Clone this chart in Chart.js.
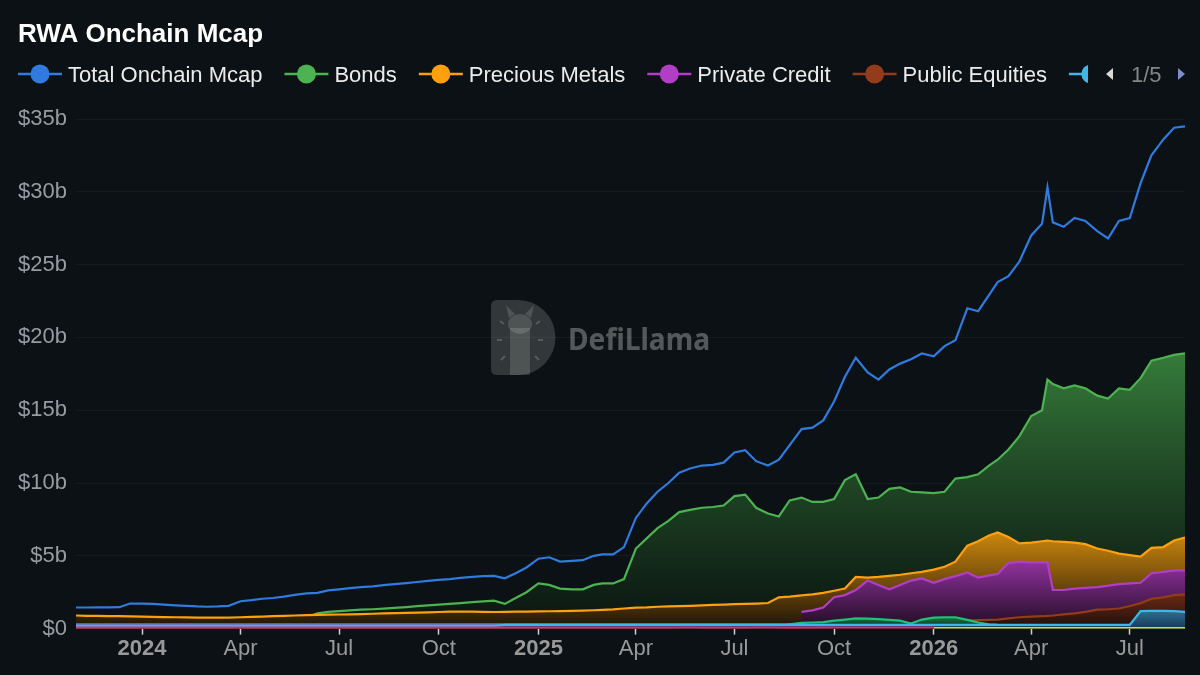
<!DOCTYPE html>
<html>
<head>
<meta charset="utf-8">
<title>RWA Onchain Mcap</title>
<script src="https://cdn.jsdelivr.net/npm/chart.js@4.4.1/dist/chart.umd.min.js"></script>
<style>
  html, body { margin: 0; padding: 0; background: #0b1114; }
  #wrap { width: 1200px; height: 675px; }
</style>
</head>
<body>
<div id="wrap"><canvas id="rwaChart" width="1200" height="675"></canvas></div>
<script>
const chartTitle = 'RWA Onchain Mcap';

// sample dates: 1st / 11th / 21st of every month (+ the mid-April 2026 spike)
const dates = [
  '2023-11-01','2023-11-11','2023-11-21', '2023-12-01','2023-12-11','2023-12-21',
  '2024-01-01','2024-01-11','2024-01-21', '2024-02-01','2024-02-11','2024-02-21',
  '2024-03-01','2024-03-11','2024-03-21', '2024-04-01','2024-04-11','2024-04-21',
  '2024-05-01','2024-05-11','2024-05-21', '2024-06-01','2024-06-11','2024-06-21',
  '2024-07-01','2024-07-11','2024-07-21', '2024-08-01','2024-08-11','2024-08-21',
  '2024-09-01','2024-09-11','2024-09-21', '2024-10-01','2024-10-11','2024-10-21',
  '2024-11-01','2024-11-11','2024-11-21', '2024-12-01','2024-12-11','2024-12-21',
  '2025-01-01','2025-01-11','2025-01-21', '2025-02-01','2025-02-11','2025-02-21',
  '2025-03-01','2025-03-11','2025-03-21', '2025-04-01','2025-04-11','2025-04-21',
  '2025-05-01','2025-05-11','2025-05-21', '2025-06-01','2025-06-11','2025-06-21',
  '2025-07-01','2025-07-11','2025-07-21', '2025-08-01','2025-08-11','2025-08-21',
  '2025-09-01','2025-09-11','2025-09-21', '2025-10-01','2025-10-11','2025-10-21',
  '2025-11-01','2025-11-11','2025-11-21', '2025-12-01','2025-12-11','2025-12-21',
  '2026-01-01','2026-01-11','2026-01-21', '2026-02-01','2026-02-11','2026-02-21',
  '2026-03-01','2026-03-11','2026-03-21', '2026-04-01','2026-04-11','2026-04-16','2026-04-21',
  '2026-05-01','2026-05-11','2026-05-21', '2026-06-01','2026-06-11','2026-06-21',
  '2026-07-01','2026-07-11','2026-07-21', '2026-08-01','2026-08-11','2026-08-21'
];

// values in $ billions, one per date
const totalMcap = [
  1.45, 1.45, 1.46,  1.46, 1.47, 1.72,
  1.72, 1.70, 1.65,  1.60, 1.56, 1.52,
  1.50, 1.52, 1.56,  1.88, 1.95, 2.05,
  2.10, 2.20, 2.32,  2.42, 2.45, 2.62,
  2.70, 2.78, 2.85,  2.90, 2.98, 3.05,
  3.12, 3.20, 3.28,  3.35, 3.40, 3.48,
  3.55, 3.60, 3.62,  3.45, 3.80, 4.20,
  4.80, 4.90, 4.60,  4.65, 4.70, 5.00,
  5.10, 5.10, 5.60,  7.60, 8.60, 9.40,
  10.0, 10.7, 11.0,  11.2, 11.25, 11.4,
  12.1, 12.25, 11.5, 11.2, 11.6, 12.6,
  13.7, 13.8, 14.3,  15.6, 17.3, 18.6,
  17.6, 17.1, 17.8,  18.2, 18.5, 18.9,
  18.7, 19.4, 19.8,  22.0, 21.8, 22.9,
  23.8, 24.2, 25.2,  27.0, 27.8, 30.3, 27.9,
  27.6, 28.2, 28.0,  27.3, 26.8, 28.0,
  28.2, 30.6, 32.5,  33.6, 34.4, 34.5
];
const bonds = [
  0.30, 0.30, 0.30,  0.28, 0.27, 0.27,
  0.26, 0.25, 0.24,  0.23, 0.22, 0.22,
  0.21, 0.20, 0.20,  0.45, 0.50, 0.55,
  0.60, 0.65, 0.72,  0.78, 1.05, 1.15,
  1.20, 1.25, 1.30,  1.33, 1.37, 1.42,
  1.48, 1.55, 1.60,  1.65, 1.70, 1.75,
  1.82, 1.87, 1.92,  1.70, 2.10, 2.50,
  3.10, 3.00, 2.75,  2.70, 2.70, 3.00,
  3.10, 3.10, 3.40,  5.50, 6.20, 6.90,
  7.40, 8.00, 8.15,  8.30, 8.35, 8.45,
  9.10, 9.20, 8.30,  7.90, 7.70, 8.80,
  9.00, 8.70, 8.70,  8.90, 10.2, 10.6,
  8.90, 9.00, 9.60,  9.70, 9.40, 9.35,
  9.30, 9.40, 10.3,  10.4, 10.6, 11.2,
  11.6, 12.3, 13.2,  14.6, 15.0, 17.1, 16.8,
  16.5, 16.7, 16.5,  16.0, 15.8, 16.5,
  16.4, 17.2, 18.4,  18.6, 18.8, 18.9
];
const preciousMetals = [
  0.90, 0.88, 0.87,  0.86, 0.85, 0.84,
  0.82, 0.80, 0.79,  0.78, 0.77, 0.76,
  0.75, 0.75, 0.76,  0.78, 0.80, 0.82,
  0.85, 0.87, 0.90,  0.92, 0.94, 0.96,
  0.97, 0.98, 1.00,  1.02, 1.04, 1.06,
  1.08, 1.10, 1.12,  1.14, 1.16, 1.17,
  1.17, 1.15, 1.14,  1.15, 1.16, 1.17,
  1.18, 1.19, 1.20,  1.22, 1.24, 1.26,
  1.28, 1.32, 1.38,  1.44, 1.46, 1.50,
  1.52, 1.54, 1.56,  1.60, 1.63, 1.65,
  1.68, 1.70, 1.72,  1.76, 2.15, 2.20,
  2.28, 2.35, 2.45,  2.60, 2.75, 3.55,
  3.50, 3.55, 3.62,  3.70, 3.80, 3.90,
  4.05, 4.25, 4.60,  5.70, 6.00, 6.40,
  6.60, 6.30, 5.85,  5.90, 6.00, 6.05, 6.00,
  5.95, 5.90, 5.80,  5.50, 5.35, 5.15,
  5.05, 4.95, 5.55,  5.60, 6.05, 6.25
];
const privateCredit = [
  null, null, null,  null, null, null,
  null, null, null,  null, null, null,
  null, null, null,  null, null, null,
  null, null, null,  null, null, null,
  null, null, null,  null, null, null,
  null, null, null,  null, null, null,
  null, null, null,  null, null, null,
  null, null, null,  null, null, null,
  null, null, null,  null, null, null,
  null, null, null,  null, null, null,
  null, null, null,  null, null, null,
  1.15, 1.25, 1.45,  2.15, 2.30, 2.65,
  3.30, 3.00, 2.70,  3.00, 3.30, 3.45,
  3.15, 3.40, 3.60,  3.85, 3.50, 3.65,
  3.75, 4.50, 4.60,  4.55, 4.55, 4.55, 2.65,
  2.65, 2.75, 2.80,  2.85, 2.95, 3.05,
  3.10, 3.15, 3.80,  3.90, 4.00, 4.00
];
const publicEquities = [
  0.03, 0.03, 0.03,  0.03, 0.03, 0.03,
  0.03, 0.03, 0.03,  0.03, 0.03, 0.03,
  0.03, 0.03, 0.03,  0.03, 0.03, 0.03,
  0.03, 0.03, 0.03,  0.03, 0.03, 0.03,
  0.03, 0.03, 0.03,  0.03, 0.03, 0.03,
  0.03, 0.03, 0.03,  0.03, 0.03, 0.03,
  0.03, 0.03, 0.03,  0.03, 0.03, 0.03,
  0.03, 0.03, 0.03,  0.03, 0.03, 0.03,
  0.03, 0.03, 0.03,  0.03, 0.03, 0.03,
  0.03, 0.15, 0.18,  0.05, 0.03, 0.03,
  0.03, 0.03, 0.20,  0.18, 0.05, 0.04,
  0.05, 0.06, 0.08,  0.10, 0.15, 0.20,
  0.25, 0.30, 0.33,  0.35, 0.38, 0.40,
  0.45, 0.48, 0.50,  0.55, 0.58, 0.60,
  0.62, 0.70, 0.78,  0.82, 0.85, 0.88, 0.90,
  0.98, 1.05, 1.15,  1.30, 1.33, 1.38,
  1.55, 1.75, 2.05,  2.15, 2.30, 2.35
];
const institutionalFunds = [
  0.18, 0.18, 0.18,  0.18, 0.18, 0.18,
  0.18, 0.18, 0.18,  0.18, 0.18, 0.18,
  0.18, 0.18, 0.18,  0.18, 0.18, 0.18,
  0.18, 0.18, 0.18,  0.18, 0.18, 0.18,
  0.18, 0.18, 0.18,  0.18, 0.18, 0.18,
  0.18, 0.18, 0.18,  0.18, 0.18, 0.18,
  0.18, 0.18, 0.18,  0.25, 0.25, 0.25,
  0.25, 0.25, 0.25,  0.25, 0.25, 0.25,
  0.25, 0.25, 0.25,  0.25, 0.25, 0.25,
  0.25, 0.25, 0.25,  0.25, 0.25, 0.25,
  0.25, 0.25, 0.25,  0.25, 0.25, 0.25,
  0.25, 0.25, 0.25,  0.25, 0.25, 0.25,
  0.25, 0.25, 0.25,  0.25, 0.25, 0.25,
  0.25, 0.25, 0.25,  0.25, 0.25, 0.25,
  0.25, 0.25, 0.25,  0.25, 0.25, 0.25, 0.25,
  0.25, 0.25, 0.25,  0.25, 0.25, 0.25,
  0.25, 1.20, 1.22,  1.22, 1.20, 1.15
];
const realEstate = [
  0.10, 0.10, 0.10,  0.10, 0.10, 0.10,
  0.10, 0.10, 0.10,  0.10, 0.10, 0.10,
  0.10, 0.10, 0.10,  0.10, 0.10, 0.10,
  0.10, 0.10, 0.10,  0.10, 0.10, 0.10,
  0.10, 0.10, 0.10,  0.10, 0.10, 0.10,
  0.10, 0.10, 0.10,  0.10, 0.10, 0.10,
  0.10, 0.10, 0.10,  0.10, 0.10, 0.10,
  0.10, 0.10, 0.10,  0.10, 0.10, 0.10,
  0.10, 0.10, 0.10,  0.10, 0.10, 0.10,
  0.10, 0.10, 0.10,  0.10, 0.10, 0.10,
  0.10, 0.10, 0.10,  0.12, 0.15, 0.30,
  0.40, 0.42, 0.45,  0.55, 0.62, 0.70,
  0.68, 0.65, 0.60,  0.55, 0.35, 0.62,
  0.75, 0.78, 0.78,  0.60, 0.42, 0.30,
  0.25, 0.22, 0.20,  0.18, 0.18, 0.18, 0.18,
  0.18, 0.18, 0.18,  0.18, 0.18, 0.18,
  0.18, 0.18, 0.18,  0.18, 0.18, 0.18
];
const structuredCredit = [
  0.30, 0.30, 0.30,  0.30, 0.30, 0.30,
  0.30, 0.30, 0.30,  0.30, 0.30, 0.30,
  0.30, 0.30, 0.30,  0.30, 0.30, 0.30,
  0.30, 0.30, 0.30,  0.30, 0.30, 0.30,
  0.30, 0.30, 0.30,  0.30, 0.30, 0.30,
  0.30, 0.30, 0.30,  0.30, 0.30, 0.30,
  0.30, 0.30, 0.30,  0.30, 0.30, 0.30,
  0.30, 0.30, 0.30,  0.30, 0.30, 0.30,
  0.30, 0.30, 0.30,  0.30, 0.30, 0.30,
  0.30, 0.30, 0.30,  0.30, 0.30, 0.30,
  0.30, 0.30, 0.30,  0.30, 0.30, 0.30,
  0.30, 0.30, 0.30,  0.30, 0.30, 0.30,
  0.30, 0.30, 0.30,  0.30, 0.30, 0.30,
  0.30, 0.30, 0.28,  0.08, 0.08, 0.08,
  0.08, 0.08, 0.08,  0.08, 0.08, 0.08, 0.08,
  0.08, 0.08, 0.08,  0.08, 0.08, 0.08,
  0.08, 0.08, 0.08,  0.08, 0.08, 0.08
];
const carbonCredits = [
  0.00, 0.00, 0.00,  0.00, 0.00, 0.00,
  0.00, 0.00, 0.00,  0.00, 0.00, 0.00,
  0.00, 0.00, 0.00,  0.00, 0.00, 0.00,
  0.00, 0.00, 0.00,  0.00, 0.00, 0.00,
  0.00, 0.00, 0.00,  0.00, 0.00, 0.00,
  0.00, 0.00, 0.00,  0.00, 0.00, 0.00,
  0.00, 0.00, 0.00,  0.00, 0.00, 0.00,
  0.00, 0.00, 0.00,  0.00, 0.00, 0.00,
  0.00, 0.00, 0.00,  0.00, 0.00, 0.00,
  0.00, 0.00, 0.00,  0.00, 0.00, 0.00,
  0.00, 0.00, 0.00,  0.00, 0.00, 0.00,
  0.00, 0.00, 0.00,  0.00, 0.00, 0.00,
  0.00, 0.00, 0.00,  0.00, 0.00, 0.00,
  0.00, null, null,  null, null, null,
  null, null, null,  null, null, null, null,
  null, null, null,  null, null, null,
  null, null, null,  null, null, null
];
const commodities = [
  null, null, null,  null, null, null,
  null, null, null,  null, null, null,
  null, null, null,  null, null, null,
  null, null, null,  null, null, null,
  null, null, null,  null, null, null,
  null, null, null,  null, null, null,
  null, null, null,  null, null, null,
  null, null, null,  null, null, null,
  null, null, null,  null, null, null,
  null, null, null,  null, null, null,
  null, null, null,  null, null, null,
  null, null, null,  null, null, null,
  null, null, null,  null, null, null,
  0.00, 0.00, 0.00,  0.00, 0.00, 0.00,
  0.00, 0.00, 0.00,  0.00, 0.00, 0.00, 0.00,
  0.00, 0.00, 0.00,  0.00, 0.00, 0.00,
  0.00, 0.00, 0.00,  0.00, 0.00, 0.00
];

// axis ticks
const xTickDates = [
  '2024-01-01','2024-04-01','2024-07-01','2024-10-01',
  '2025-01-01','2025-04-01','2025-07-01','2025-10-01',
  '2026-01-01','2026-04-01','2026-07-01'
];
const monthNames = ['Jan','Feb','Mar','Apr','May','Jun','Jul','Aug','Sep','Oct','Nov','Dec'];
const yTicks = [0, 5, 10, 15, 20, 25, 30, 35];
const pageLabel = '1/5';

const FONT = "'Liberation Sans', Arial, Helvetica, sans-serif";
const BG = '#0b1114';

const toTime = (s) => {
  const p = s.split('-').map(Number);
  return Date.UTC(p[0], p[1] - 1, p[2]);
};

// vertical gradient from the series peak down to $0
function fadeFill(topColor, bottomColor, vals) {
  const peak = Math.max(...vals.filter(v => v != null));
  return (c) => {
    const chart = c.chart;
    const area = chart.chartArea;
    if (!area) return bottomColor;
    const y0 = chart.scales.y.getPixelForValue(peak);
    const g = chart.ctx.createLinearGradient(0, y0, 0, area.bottom);
    g.addColorStop(0, topColor);
    g.addColorStop(1, bottomColor);
    return g;
  };
}

function series(label, vals, color, order, fill, width) {
  return {
    label: label,
    data: dates.map((d, i) => ({ x: toTime(d), y: vals[i] })),
    borderColor: color,
    borderWidth: width || 2.2,
    pointRadius: 0,
    tension: 0,
    order: order,
    fill: fill ? 'origin' : false,
    backgroundColor: fill || color
  };
}

const datasets = [
  series('Total Onchain Mcap', totalMcap, '#2f7be0', 0, null),
  series('Bonds', bonds, '#4db251', 9, fadeFill('rgba(58,135,62,0.9)', 'rgba(10,22,16,0.7)', bonds)),
  series('Precious Metals', preciousMetals, '#ffa00c', 8, fadeFill('rgb(205,135,14)', 'rgb(28,20,6)', preciousMetals)),
  series('Private Credit', privateCredit, '#b23ec6', 7, fadeFill('rgb(145,50,158)', 'rgb(30,12,32)', privateCredit)),
  series('Public Equities', publicEquities, '#933c1c', 6, fadeFill('rgb(105,42,20)', 'rgb(28,14,10)', publicEquities)),
  series('Institutional Funds', institutionalFunds, '#3fb6ea', 3, fadeFill('rgb(45,110,150)', 'rgb(24,58,82)', institutionalFunds)),
  series('Real Estate', realEstate, '#22c07a', 4, fadeFill('rgb(25,120,65)', 'rgb(10,40,25)', realEstate)),
  series('Structured Credit', structuredCredit, '#5b7fbf', 5, null),
  series('Carbon Credits', carbonCredits, '#e2296e', 2, null, 4),
  series('Commodities', commodities, '#d6dc2a', 1, null, 3)
];

const backgroundPlugin = {
  id: 'background',
  beforeDraw(chart) {
    const ctx = chart.ctx;
    ctx.save();
    ctx.fillStyle = BG;
    ctx.fillRect(0, 0, chart.width, chart.height);
    ctx.restore();
  }
};

// faint DefiLlama mark behind the lines
const watermarkPlugin = {
  id: 'watermark',
  beforeDatasetsDraw(chart) {
    const ctx = chart.ctx;
    ctx.save();
    ctx.fillStyle = 'rgba(255,255,255,0.16)';
    ctx.beginPath();
    ctx.moveTo(497, 300);
    ctx.lineTo(518, 300);
    ctx.arc(518, 337.5, 37.5, -Math.PI / 2, Math.PI / 2);
    ctx.lineTo(497, 375);
    ctx.quadraticCurveTo(491, 375, 491, 369);
    ctx.lineTo(491, 306);
    ctx.quadraticCurveTo(491, 300, 497, 300);
    ctx.fill();
    // llama
    ctx.fillStyle = 'rgba(255,255,255,0.14)';
    ctx.fillRect(510, 328, 20, 47);
    ctx.beginPath();
    ctx.ellipse(520, 324, 12, 10, 0, 0, Math.PI * 2);
    ctx.fill();
    ctx.beginPath();
    ctx.moveTo(509, 318); ctx.lineTo(506, 305); ctx.lineTo(515, 314);
    ctx.moveTo(531, 318); ctx.lineTo(534, 305); ctx.lineTo(525, 314);
    ctx.fill();
    ctx.strokeStyle = 'rgba(255,255,255,0.18)';
    ctx.lineWidth = 2;
    ctx.beginPath();
    ctx.moveTo(500, 321); ctx.lineTo(504, 324);
    ctx.moveTo(497, 340); ctx.lineTo(502, 340);
    ctx.moveTo(501, 360); ctx.lineTo(505, 356);
    ctx.moveTo(540, 321); ctx.lineTo(536, 324);
    ctx.moveTo(543, 340); ctx.lineTo(538, 340);
    ctx.moveTo(539, 360); ctx.lineTo(535, 356);
    ctx.stroke();
    ctx.fillStyle = 'rgba(255,255,255,0.3)';
    ctx.font = "bold 31px 'Noto Sans', sans-serif";
    ctx.textBaseline = 'alphabetic';
    ctx.fillText('DefiLlama', 568, 350, 142);
    ctx.restore();
  }
};

// title, legend row (cut at the pager) and the pager itself
const headerPlugin = {
  id: 'header',
  afterDraw(chart) {
    const ctx = chart.ctx;
    ctx.save();
    ctx.fillStyle = '#ffffff';
    ctx.font = `bold 26px ${FONT}`;
    ctx.textBaseline = 'alphabetic';
    ctx.fillText(chartTitle, 18, 42);

    ctx.save();
    ctx.beginPath();
    ctx.rect(0, 55, 1088, 40);
    ctx.clip();
    ctx.font = `22px ${FONT}`;
    const cy = 74;
    let x = 18;
    chart.data.datasets.forEach(ds => {
      ctx.strokeStyle = ds.borderColor;
      ctx.lineWidth = 2.5;
      ctx.beginPath();
      ctx.moveTo(x, cy);
      ctx.lineTo(x + 44, cy);
      ctx.stroke();
      ctx.fillStyle = ds.borderColor;
      ctx.beginPath();
      ctx.arc(x + 22, cy, 9.5, 0, Math.PI * 2);
      ctx.fill();
      ctx.fillStyle = '#ececec';
      ctx.fillText(ds.label, x + 50, cy + 8);
      x += 50 + ctx.measureText(ds.label).width + 22;
    });
    ctx.restore();

    ctx.fillStyle = '#d8d8d8';
    ctx.beginPath();
    ctx.moveTo(1113, 68); ctx.lineTo(1113, 80); ctx.lineTo(1106, 74);
    ctx.fill();
    ctx.fillStyle = '#858585';
    ctx.font = `22px ${FONT}`;
    ctx.fillText(pageLabel, 1131, 82);
    ctx.fillStyle = '#7d8ec9';
    ctx.beginPath();
    ctx.moveTo(1178, 68); ctx.lineTo(1178, 80); ctx.lineTo(1185, 74);
    ctx.fill();
    ctx.restore();
  }
};

new Chart(document.getElementById('rwaChart'), {
  type: 'line',
  data: { datasets: datasets },
  plugins: [backgroundPlugin, watermarkPlugin, headerPlugin],
  options: {
    responsive: false,
    animation: false,
    events: [],
    layout: { padding: { top: 119, left: 9, right: 15, bottom: 12 } },
    plugins: {
      legend: { display: false },
      title: { display: false },
      tooltip: { enabled: false }
    },
    scales: {
      x: {
        type: 'linear',
        min: toTime(dates[0]),
        max: toTime(dates[dates.length - 1]),
        afterBuildTicks: (scale) => {
          scale.ticks = xTickDates.map(d => ({ value: toTime(d) }));
        },
        border: { display: false },
        grid: {
          drawOnChartArea: false,
          drawTicks: true,
          tickLength: 6,
          tickColor: '#d0d0d0',
          tickWidth: 1.5
        },
        ticks: {
          autoSkip: false,
          maxRotation: 0,
          padding: 1,
          color: '#999999',
          font: (c) => ({
            family: FONT,
            size: 22,
            weight: c.tick && new Date(c.tick.value).getUTCMonth() === 0 ? 'bold' : 'normal'
          }),
          callback: (v) => {
            const d = new Date(v);
            return d.getUTCMonth() === 0 ? String(d.getUTCFullYear()) : monthNames[d.getUTCMonth()];
          }
        }
      },
      y: {
        min: yTicks[0],
        max: yTicks[yTicks.length - 1],
        afterBuildTicks: (scale) => {
          scale.ticks = yTicks.map(v => ({ value: v }));
        },
        border: { display: false },
        grid: { color: 'rgba(255,255,255,0.045)', drawTicks: false },
        ticks: {
          padding: 9,
          color: '#979ca1',
          font: { family: FONT, size: 22 },
          callback: (v) => '$' + v + (v === 0 ? '' : 'b')
        }
      }
    }
  }
});
</script>
</body>
</html>
